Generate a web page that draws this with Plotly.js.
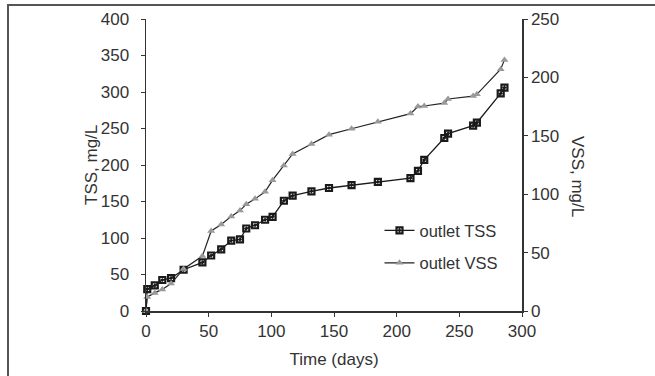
<!DOCTYPE html>
<html>
<head>
<meta charset="utf-8">
<script src="https://cdn.plot.ly/plotly-3.0.1.min.js"></script>
<style>
html,body{margin:0;padding:0;background:#fff;}
#wrap{position:relative;width:655px;height:376px;overflow:hidden;}
#chart{position:absolute;left:0;top:0;width:655px;height:376px;}
#frame{position:absolute;left:7px;top:4px;right:-10px;bottom:-10px;border-top:2px solid #555;border-left:2px solid #555;pointer-events:none;}
</style>
</head>
<body>
<div id="wrap"><div id="chart"></div><div id="frame"></div></div>
<script>
const days = [0, 1, 7, 13, 20, 30, 45, 52, 60, 68, 75, 80, 87, 95, 101, 110, 117, 132, 146, 164, 185, 211, 217, 222, 238, 241, 261, 264, 283, 286];
const tssValues = [0, 30, 35, 42.5, 45, 56.5, 66.5, 76, 84.5, 96.5, 98, 113, 117.5, 125, 129, 151, 158, 164, 168.5, 172.5, 177, 182, 192, 207, 237, 243, 254, 258, 298, 306];
const vssValues = [0, 12, 15.5, 18.5, 23.5, 36, 47, 68.5, 74, 81, 86, 91.5, 96, 102, 112, 124.5, 134.5, 143, 151, 156, 162, 169, 175, 175.5, 178, 181.5, 184, 185.5, 207, 215];
const seriesNames = ['outlet TSS', 'outlet VSS'];
const xTitle = 'Time (days)';
const yTitleLeft = 'TSS, mg/L';
const yTitleRight = 'VSS, mg/L';

const FONT = '"Liberation Sans Narrow", "Arial Narrow", "Liberation Sans", Arial, sans-serif';
const TXT = '#333';

const traces = [
  {
    x: days, y: tssValues, name: seriesNames[0], type: 'scatter', mode: 'lines+markers',
    line: {color: '#1a1a1a', width: 1.3},
    marker: {symbol: 'square-open-dot', size: 6, color: '#1a1a1a', line: {width: 2.2, color: '#1a1a1a'}},
    cliponaxis: false, legendgroup: 'a', yaxis: 'y'
  },
  {
    x: days, y: vssValues, name: seriesNames[1], type: 'scatter', mode: 'lines+markers',
    line: {color: '#222', width: 1.2},
    marker: {symbol: 'triangle-up', size: 7, color: '#999'},
    cliponaxis: false, legendgroup: 'b', yaxis: 'y2'
  }
];

const axisCommon = {
  showgrid: false, zeroline: false, showline: true, linecolor: '#333', linewidth: 1.5,
  ticks: 'outside', ticklen: 4, tickwidth: 1, tickcolor: '#333',
  tickfont: {family: FONT, size: 17, color: TXT}
};

const layout = {
  width: 655, height: 376,
  margin: {l: 146, r: 133, t: 19, b: 65},
  paper_bgcolor: '#fff', plot_bgcolor: '#fff',
  font: {family: FONT, color: TXT},
  showlegend: true,
  legend: {
    x: 0.621, y: 0.335, xanchor: 'left', yanchor: 'top',
    bgcolor: 'rgba(0,0,0,0)', font: {family: FONT, size: 16.5, color: TXT},
    traceorder: 'grouped', tracegroupgap: 8, itemwidth: 30
  },
  xaxis: Object.assign({}, axisCommon, {
    range: [0, 300], dtick: 50, tick0: 0,
    title: {text: xTitle, font: {family: FONT, size: 17, color: TXT}, standoff: 13}
  }),
  yaxis: Object.assign({}, axisCommon, {
    range: [0, 400], dtick: 50, tick0: 0, ticklabelstandoff: 8,
    title: {text: ''}
  }),
  yaxis2: Object.assign({}, axisCommon, {
    range: [0, 250], dtick: 50, tick0: 0, overlaying: 'y', side: 'right',
    title: {text: ''}
  }),
  annotations: [
    {
      text: yTitleLeft, textangle: -90, xref: 'paper', yref: 'paper',
      x: (91 - 146) / 376, y: (311 - 165) / 292, xanchor: 'center', yanchor: 'middle',
      showarrow: false, font: {family: FONT, size: 17, color: TXT}
    },
    {
      text: yTitleRight, textangle: 90, xref: 'paper', yref: 'paper',
      x: (578 - 146) / 376, y: (311 - 176) / 292, xanchor: 'center', yanchor: 'middle',
      showarrow: false, font: {family: FONT, size: 17, color: TXT}
    }
  ]
};

Plotly.newPlot('chart', traces, layout, {displayModeBar: false, staticPlot: true});
</script>
</body>
</html>
